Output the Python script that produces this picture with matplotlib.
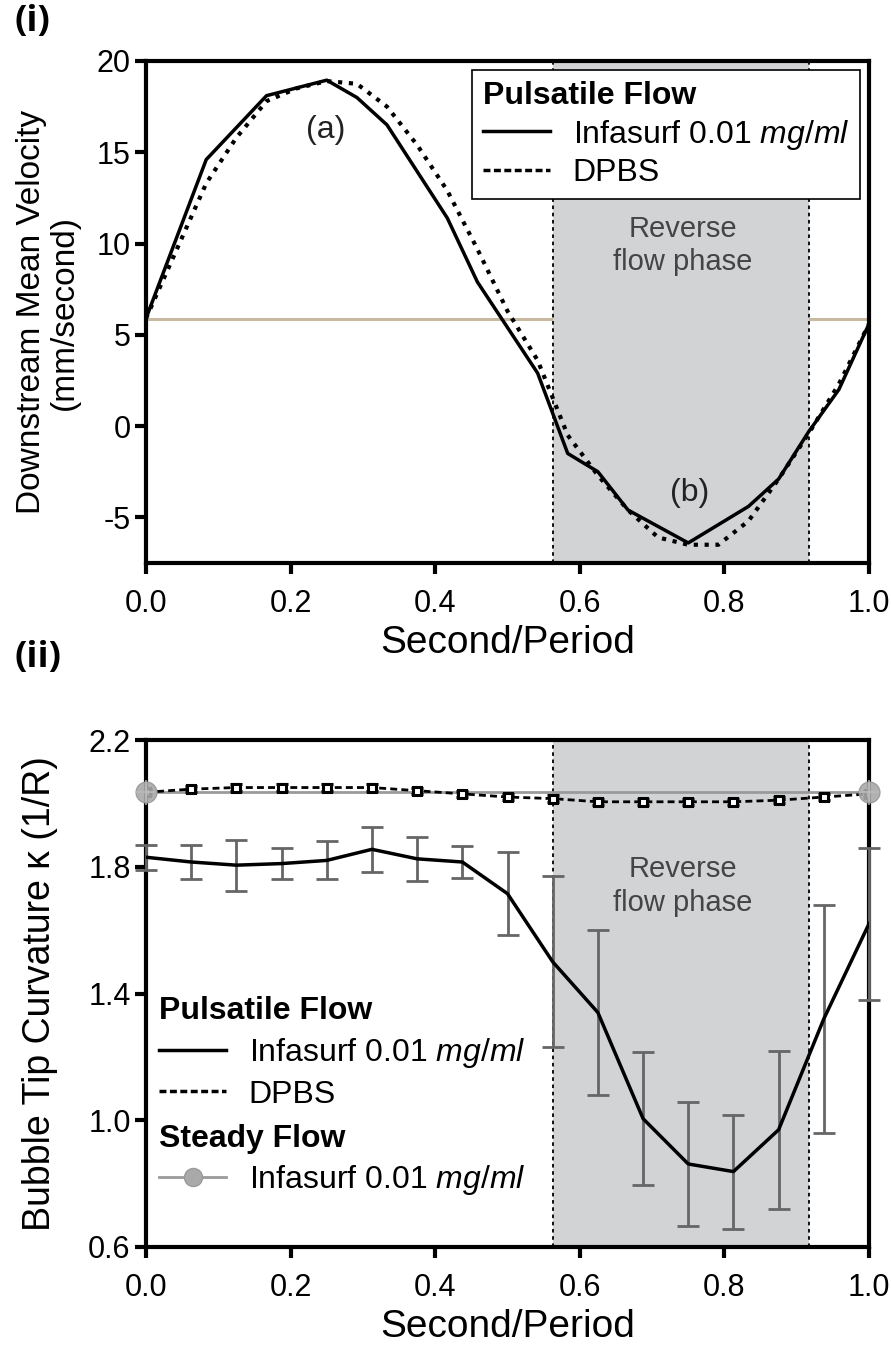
import numpy as np
import matplotlib
matplotlib.use('Agg')
import matplotlib.pyplot as plt
from matplotlib.lines import Line2D

plt.rcParams['font.family'] = ['Liberation Sans', 'DejaVu Sans']
plt.rcParams['mathtext.fontset'] = 'custom'
plt.rcParams['mathtext.rm'] = 'Liberation Sans'
plt.rcParams['mathtext.it'] = 'Liberation Sans:italic'

# ---- panel (i): downstream mean velocity ----
t_inf = [0.0, 0.0833, 0.1667, 0.25, 0.2917, 0.3333, 0.4167, 0.4583, 0.5, 0.5417,
         0.5833, 0.625, 0.6667, 0.75, 0.8333, 0.875, 0.9167, 0.9583, 1.0]
v_inf = [5.9, 14.6, 18.1, 18.95, 18.0, 16.5, 11.4, 7.9, 5.4, 2.9,
         -1.5, -2.5, -4.6, -6.4, -4.4, -2.9, -0.3, 2.0, 5.6]

t_dpbs = [0.0, 0.0833, 0.125, 0.1667, 0.2083, 0.25, 0.2917, 0.3333, 0.375, 0.4167,
          0.4583, 0.5, 0.5417, 0.5833, 0.625, 0.6667, 0.7083, 0.75, 0.7917, 0.8333,
          0.875, 0.9167, 0.9583, 1.0]
v_dpbs = [5.9, 13.3, 15.8, 17.8, 18.5, 18.9, 18.75, 17.5, 15.4, 12.9,
          9.7, 6.3, 3.6, -0.5, -2.7, -4.6, -6.1, -6.5, -6.5, -5.2,
          -2.9, -0.4, 2.3, 5.6]

v_mean = 5.85
reverse_phase = (0.5625, 0.917)

# ---- panel (ii): bubble tip curvature ----
t_k = [0.0, 0.0625, 0.125, 0.1875, 0.25, 0.3125, 0.375, 0.4375, 0.5, 0.5625,
       0.625, 0.6875, 0.75, 0.8125, 0.875, 0.9375, 1.0]
k_inf = [1.83, 1.815, 1.805, 1.81, 1.82, 1.855, 1.825, 1.815, 1.715, 1.50,
         1.34, 1.005, 0.862, 0.838, 0.97, 1.32, 1.62]
k_inf_err = [0.04, 0.053, 0.08, 0.05, 0.06, 0.07, 0.07, 0.05, 0.13, 0.27,
             0.26, 0.21, 0.195, 0.18, 0.25, 0.36, 0.24]
k_dpbs = [2.035, 2.045, 2.05, 2.05, 2.05, 2.05, 2.04, 2.03, 2.02, 2.015,
          2.005, 2.005, 2.005, 2.005, 2.01, 2.02, 2.03]
k_dpbs_err = [0.01] * len(t_k)
t_steady = [0.0, 1.0]
k_steady = [2.035, 2.035]

inf_label = r'Infasurf 0.01 $\mathit{mg/ml}$'
FS = 23

fig = plt.figure(figsize=(8.91, 13.46), dpi=100)
ax1 = fig.add_axes([146/891, 1 - 563/1346, 723/891, 502/1346])
ax2 = fig.add_axes([146/891, 1 - 1247/1346, 723/891, 507/1346])

shade = '#d1d3d5'
for ax in (ax1, ax2):
    ax.axvspan(*reverse_phase, color=shade, zorder=1, lw=0)
    for xv in reverse_phase:
        ax.axvline(xv, color='black', ls=(0, (2, 2)), lw=1.3, zorder=2)
    for s in ax.spines.values():
        s.set_linewidth(3)
    ax.tick_params(width=3, length=8, labelsize=22, direction='out')
    ax.tick_params(axis='x', pad=11)
    ax.tick_params(axis='y', pad=3)
    ax.set_xlim(0, 1)
    ax.set_xticks(np.arange(0, 1.01, 0.2))
    ax.set_xticklabels([f'{v:.1f}' for v in np.arange(0, 1.01, 0.2)])
    ax.set_xlabel('Second/Period', fontsize=28, labelpad=4)

# panel (i)
ax1.axhline(v_mean, color='#c9b9a3', lw=2.2, zorder=0)
ax1.plot(t_inf, v_inf, color='black', lw=2.5, zorder=3)
ax1.plot(t_dpbs, v_dpbs, color='black', lw=3, ls=(0, (1, 1.6)), zorder=3)
ax1.set_ylim(-7.5, 20)
ax1.set_yticks([-5, 0, 5, 10, 15, 20])
ax1.set_yticklabels(['-5', '0', '5', '10', '15', '20'])
ax1.set_ylabel('Downstream Mean Velocity\n(mm/second)', fontsize=24, labelpad=12,
               linespacing=1.1)
ax1.text(0.248, 16.2, '(a)', fontsize=FS, ha='center', va='center', color='#222222')
ax1.text(0.752, -3.65, '(b)', fontsize=FS, ha='center', va='center', color='#222222')
ax1.text(0.742, 9.9, 'Reverse\nflow phase', fontsize=21, ha='center', va='center',
         color='#444444', linespacing=1.25, zorder=4)

h1 = [Line2D([], [], color='black', lw=2.5),
      Line2D([], [], color='black', lw=2.5, ls=(0, (2, 1)))]
leg1 = ax1.legend(h1, [inf_label, 'DPBS'], loc='upper right',
                  bbox_to_anchor=(0.988, 0.982), borderaxespad=0,
                  title='Pulsatile Flow', alignment='left', fontsize=FS,
                  title_fontproperties={'weight': 'bold', 'size': FS},
                  fancybox=False, edgecolor='black', framealpha=1,
                  handlelength=2.1, handletextpad=0.7, labelspacing=0.2,
                  borderpad=0.35)
leg1.get_frame().set_linewidth(1.2)
leg1.set_zorder(5)

# panel (ii)
ax2.plot(t_steady, k_steady, color='#9a9a9a', lw=2, zorder=3, clip_on=False)
ax2.errorbar(t_steady, k_steady, yerr=0.04, fmt='o', ms=15, color='#9a9a9a',
             mfc='#a9a9a9', mec='#9a9a9a', alpha=0.9, elinewidth=1.5, capsize=0,
             zorder=6, clip_on=False)
ax2.plot(t_steady, k_steady, '+', ms=15, mew=1.2, color='#bbbbbb', zorder=7,
         clip_on=False)
ax2.errorbar(t_k, k_dpbs, yerr=k_dpbs_err, fmt='s', ls=(0, (2.5, 1.5)), lw=2,
             color='black', ms=6, mfc='white', mec='black', mew=2.2,
             ecolor='black', elinewidth=2, capsize=4, capthick=2, zorder=5)
ax2.errorbar(t_k, k_inf, yerr=k_inf_err, fmt='none', ecolor='#666666',
             elinewidth=2, capsize=8, capthick=2, zorder=3, clip_on=False)
ax2.plot(t_k, k_inf, color='black', lw=2.5, zorder=4)
ax2.set_ylim(0.6, 2.2)
ax2.set_yticks([0.6, 1.0, 1.4, 1.8, 2.2])
ax2.set_yticklabels(['0.6', '1.0', '1.4', '1.8', '2.2'])
ax2.set_ylabel('Bubble Tip Curvature κ (1/R)', fontsize=27, labelpad=22)
ax2.text(0.742, 1.739, 'Reverse\nflow phase', fontsize=21, ha='center', va='center',
         color='#444444', linespacing=1.25, zorder=4)

h2 = [Line2D([], [], color='black', lw=2.5),
      Line2D([], [], color='black', lw=2.5, ls=(0, (2, 1)))]
leg2 = ax2.legend(h2, [inf_label, 'DPBS'], loc='upper left',
                  bbox_to_anchor=(0.005, 0.513), borderaxespad=0,
                  title='Pulsatile Flow', alignment='left', fontsize=FS,
                  title_fontproperties={'weight': 'bold', 'size': FS},
                  frameon=False, handlelength=2.1, handletextpad=0.7,
                  labelspacing=0.3, borderpad=0.3)
ax2.add_artist(leg2)
h3 = [Line2D([], [], color='#9a9a9a', lw=2, marker='o', ms=13,
             mfc='#a9a9a9', mec='#9a9a9a')]
leg3 = ax2.legend(h3, [inf_label], loc='upper left',
                  bbox_to_anchor=(0.005, 0.262), borderaxespad=0,
                  title='Steady Flow', alignment='left', fontsize=FS,
                  title_fontproperties={'weight': 'bold', 'size': FS},
                  frameon=False, handlelength=2.1, handletextpad=0.7,
                  labelspacing=0.3, borderpad=0.3)

fig.text(15/891, 1 - 22/1346, '(i)', fontsize=26, fontweight='bold',
         family=['Open Sans', 'DejaVu Sans'], va='center')
fig.text(15/891, 1 - 658/1346, '(ii)', fontsize=26, fontweight='bold',
         family=['Open Sans', 'DejaVu Sans'], va='center')

fig.savefig('out.png', dpi=100)
